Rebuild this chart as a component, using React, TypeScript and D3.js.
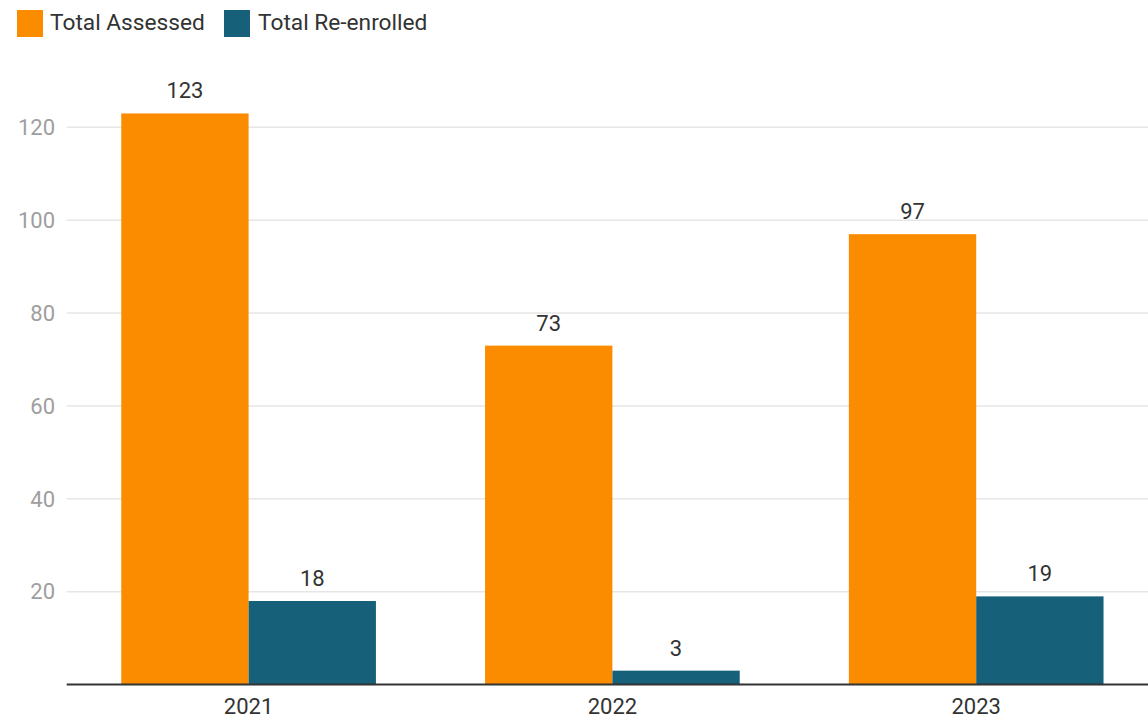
import React from "react";
import * as d3 from "d3";

const years = ["2021", "2022", "2023"];
const seriesNames = ["Total Assessed", "Total Re-enrolled"];
const totalAssessed = [123, 73, 97];
const totalReenrolled = [18, 3, 19];
const yTicks = [20, 40, 60, 80, 100, 120];
const colors = ["#FB8C00", "#17607A"];

const W = 1148;
const H = 718;

export default function App() {
  const seriesValues = [totalAssessed, totalReenrolled];
  const x0 = d3
    .scaleBand<string>()
    .domain(years)
    .range([66.7, 1158.1])
    .paddingInner(0.3)
    .paddingOuter(0.15);
  const x1 = d3
    .scaleBand<string>()
    .domain(seriesNames)
    .range([0, x0.bandwidth()])
    .padding(0);
  const y = d3.scaleLinear().domain([0, 140]).range([684.6, 34.5]);
  const font = "Roboto, 'Noto Sans', sans-serif";

  return (
    <svg
      width={W}
      height={H}
      style={{ position: "absolute", left: 0, top: 0, background: "#fff" }}
      fontFamily={font}
    >
      {/* legend */}
      <g>
        <rect x={17} y={10} width={26} height={27} fill={colors[0]} />
        <text x={50} y={30} fontSize={22.7} fill="#333">
          {seriesNames[0]}
        </text>
        <rect x={224} y={10} width={26} height={27} fill={colors[1]} />
        <text x={258} y={30} fontSize={22.7} fill="#333">
          {seriesNames[1]}
        </text>
      </g>
      {/* grid */}
      {yTicks.map((t) => (
        <g key={t}>
          <line x1={66.7} x2={W} y1={y(t)} y2={y(t)} stroke="#e6e6e6" strokeWidth={1.5} />
          <text
            x={55}
            y={y(t)}
            dy="0.35em"
            textAnchor="end"
            fontSize={22}
            fill="#9e9e9e"
          >
            {t}
          </text>
        </g>
      ))}
      {/* bars */}
      {years.map((yr, i) => (
        <g key={yr} transform={`translate(${x0(yr)},0)`}>
          {seriesNames.map((s, j) => {
            const v = seriesValues[j][i];
            const bx = x1(s) as number;
            return (
              <g key={s}>
                <rect
                  x={bx}
                  y={y(v)}
                  width={x1.bandwidth()}
                  height={y(0) - y(v)}
                  fill={colors[j]}
                />
                <text
                  x={bx + x1.bandwidth() / 2}
                  y={y(v) - 15}
                  textAnchor="middle"
                  fontSize={22}
                  fill="#333"
                >
                  {v}
                </text>
              </g>
            );
          })}
        </g>
      ))}
      {/* x axis */}
      <line x1={66.7} x2={W} y1={y(0)} y2={y(0)} stroke="#333" strokeWidth={2} />
      {years.map((yr) => (
        <text
          key={yr}
          x={(x0(yr) as number) + x0.bandwidth() / 2}
          y={714}
          textAnchor="middle"
          fontSize={22}
          fill="#333"
        >
          {yr}
        </text>
      ))}
    </svg>
  );
}
